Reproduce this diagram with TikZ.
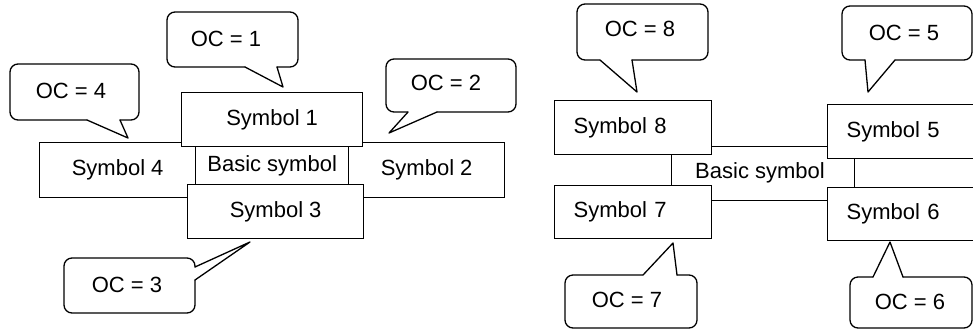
\documentclass[tikz,border=0pt]{standalone}
\usepackage{fontspec}
\setmainfont{Liberation Sans}
\begin{document}
\begin{tikzpicture}[x=1pt,y=-1pt,
  every node/.style={font=\fontsize{22}{25}\selectfont},
  sym/.style={draw, fill=white, line width=1.3pt, inner sep=0pt, anchor=north west},
  symL/.style={sym, align=left, inner xsep=19pt},
  bub/.style={draw, line width=1.3pt, line cap=round, line join=round},
  txt/.style={inner sep=0pt}]
\useasboundingbox (0,0) rectangle (973,330);
\clip (0,0) rectangle (973,330);
% ---------- left group ----------
\node[sym, minimum width=156, minimum height=55] (s4) at (39,142) {Symbol 4};
\node[sym, minimum width=156, minimum height=55] (s2) at (348,142) {Symbol 2};
\node[sym, minimum width=153, minimum height=38] (b1) at (195,146) {Basic symbol};
\node[sym, minimum width=181, minimum height=54] (s1) at (181,92) {Symbol 1};
\node[sym, minimum width=176, minimum height=54] (s3) at (187,184) {Symbol 3};
% callouts left
\draw[bub, rounded corners=8] (277,67) -- (298,67) -- (298,12) -- (167,12) -- (167,67) -- (245,67);
\draw[bub] (245,67) -- (283,87) -- (277,67);
\node[txt] (oc1) at (226,39) {OC = 1};
\draw[bub, rounded corners=8] (120,120) -- (139,120) -- (139,64) -- (10,64) -- (10,120) -- (87,120);
\draw[bub] (87,120) -- (128,138) -- (120,120);
\node[txt] (oc4) at (71,91) {OC = 4};
\draw[bub, rounded corners=8] (437,112) -- (516,112) -- (516,59) -- (386,59) -- (386,112) -- (408,112);
\draw[bub] (408,112) -- (389,133) -- (437,112);
\node[txt] (oc2) at (446,83) {OC = 2};
\draw[bub, rounded corners=8] (195,267) -- (195,258) -- (64,258) -- (64,313) -- (195,313) -- (195,280);
\draw[bub] (195,280) -- (250,242) -- (195,267);
\node[txt] (oc3) at (127,285) {OC = 3};
% ---------- right group ----------
\node[sym, minimum width=183, minimum height=54] (b2) at (671,146) {};
\node[txt] (bt) at (760,173) {Basic symbol};
\node[symL, minimum width=157, minimum height=54, text width=119] (s8) at (554,100) {Symbol 8};
\node[symL, minimum width=157, minimum height=53, text width=119] (s7) at (554,185) {Symbol 7};
\node[symL, minimum width=163, minimum height=54, text width=125] (s5) at (827,104) {Symbol 5};
\node[symL, minimum width=163, minimum height=53, text width=125] (s6) at (827,187) {Symbol 6};
% callouts right
\draw[bub, rounded corners=8] (632,60) -- (708,60) -- (708,4) -- (577,4) -- (577,60) -- (600,60);
\draw[bub] (600,60) -- (637,92) -- (632,60);
\node[txt] (oc8) at (640,29) {OC = 8};
\draw[bub, rounded corners=8] (895,60) -- (972,60) -- (972,6) -- (842,6) -- (842,60) -- (865,60);
\draw[bub] (865,60) -- (868,92) -- (895,60);
\node[txt] (oc5) at (904,33) {OC = 5};
\draw[bub, rounded corners=8] (677,275) -- (697,275) -- (697,328) -- (565,328) -- (565,275) -- (643,275);
\draw[bub] (643,275) -- (673,243) -- (677,275);
\node[txt] (oc7) at (627,300) {OC = 7};
\draw[bub, rounded corners=8] (903,277) -- (972,277) -- (972,328) -- (850,328) -- (850,277) -- (873,277);
\draw[bub] (873,277) -- (890,242) -- (903,277);
\node[txt] (oc6) at (910,302) {OC = 6};
\end{tikzpicture}
\end{document}
